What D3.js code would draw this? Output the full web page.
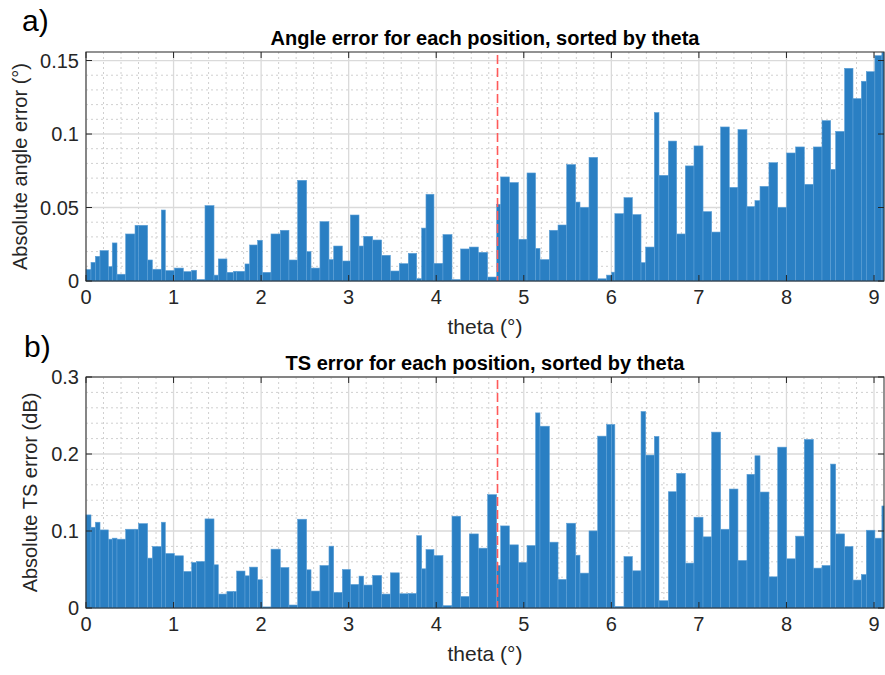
<!DOCTYPE html>
<html>
<head>
<meta charset="utf-8">
<script src="https://cdn.jsdelivr.net/npm/d3@7/dist/d3.min.js"></script>
<style>
  body { margin: 0; background: #fff; }
  svg { display: block; font-family: "Liberation Sans", Arial, sans-serif; }
</style>
</head>
<body>
<svg id="chart" width="885" height="675"></svg>
<script>
// ---- Data (left edge of each bar step, in degrees) ----
const theta = [0.000,0.057,0.107,0.160,0.255,0.300,0.354,0.453,0.560,0.600,
  0.704,0.758,0.860,0.906,1.009,1.112,1.207,1.264,1.359,1.462,
  1.511,1.610,1.686,1.721,1.816,1.869,1.960,2.014,2.113,2.219,
  2.318,2.417,2.520,2.570,2.672,2.775,2.829,2.928,3.019,3.118,
  3.171,3.274,3.377,3.476,3.578,3.681,3.777,3.834,3.883,3.974,
  4.077,4.180,4.279,4.378,4.481,4.587,4.690,4.736,4.835,4.938,
  5.037,5.135,5.185,5.292,5.391,5.490,5.592,5.642,5.745,5.844,
  5.946,6.004,6.040,6.144,6.240,6.339,6.392,6.491,6.544,6.651,
  6.746,6.845,6.944,7.047,7.146,7.248,7.347,7.446,7.549,7.640,
  7.698,7.800,7.900,8.002,8.105,8.204,8.307,8.406,8.505,8.562,
  8.664,8.760,8.855,8.912,9.010,9.090];
const thetaEnd = 9.114;
const angleErr = [0.0078,0.0127,0.0168,0.0207,0.0098,0.0259,0.0046,0.0320,0.0379,0.0379,
  0.0143,0.0080,0.0483,0.0071,0.0088,0.0064,0.0073,0.0010,0.0513,0.0040,
  0.0150,0.0059,0.0066,0.0066,0.0116,0.0245,0.0277,0.0059,0.0320,0.0345,
  0.0143,0.0685,0.0200,0.0088,0.0404,0.0146,0.0238,0.0136,0.0449,0.0238,
  0.0304,0.0279,0.0175,0.0068,0.0118,0.0188,0.0016,0.0360,0.0590,0.0120,
  0.0316,0.0010,0.0218,0.0231,0.0195,0.0027,0.0522,0.0708,0.0670,0.0284,
  0.0735,0.0222,0.0146,0.0345,0.0381,0.0792,0.0537,0.0501,0.0841,0.0015,
  0.0040,0.0060,0.0458,0.0567,0.0452,0.0125,0.0231,0.1146,0.0719,0.0952,
  0.0320,0.0783,0.0919,0.0472,0.0333,0.1048,0.0637,0.1030,0.0506,0.0547,
  0.0644,0.0805,0.0501,0.0871,0.0912,0.0658,0.0912,0.1091,0.0760,0.1018,
  0.1447,0.1241,0.1359,0.1424,0.1533,0.1555];
const tsErr = [0.1209,0.1049,0.1114,0.1014,0.0894,0.0907,0.0894,0.1023,0.1023,0.1096,
  0.0648,0.0798,0.1114,0.0708,0.0678,0.0475,0.0591,0.0604,0.1157,0.0561,
  0.0181,0.0215,0.0215,0.0480,0.0418,0.0531,0.0367,0.0014,0.0764,0.0526,
  0.0039,0.1153,0.0496,0.0220,0.0552,0.0803,0.0202,0.0500,0.0306,0.0414,
  0.0298,0.0423,0.0181,0.0457,0.0185,0.0189,0.0940,0.0509,0.0759,0.0681,
  0.0030,0.1192,0.0150,0.0962,0.0777,0.1472,0.0552,0.1066,0.0820,0.0591,
  0.0811,0.2534,0.2361,0.0855,0.0371,0.1101,0.0686,0.0453,0.1001,0.2232,
  0.2383,0.2383,0.0020,0.0668,0.0483,0.2552,0.1986,0.2228,0.0095,0.1510,
  0.1749,0.0583,0.1179,0.0924,0.2284,0.1023,0.1545,0.0617,0.1736,0.1977,
  0.1506,0.0405,0.2089,0.0639,0.0933,0.2189,0.0518,0.0552,0.1869,0.0962,
  0.0798,0.0363,0.0435,0.1010,0.0907,0.1325];
const xTicks = [0,1,2,3,4,5,6,7,8,9];
const yTicksA = [0,0.05,0.1,0.15];
const yTicksB = [0,0.1,0.2,0.3];
const markerTheta = 4.7;

const svg = d3.select("#chart");
const axisColor = "#262626";
const barColor = "#2a7fc3";

function panel(cfg) {
  const g = svg.append("g");
  const x = d3.scaleLinear().domain([0, thetaEnd]).range([cfg.left, cfg.right]);
  const y = d3.scaleLinear().domain([0, cfg.yMax]).range([cfg.bottom, cfg.top]);

  // minor grid
  const minorX = d3.range(0, thetaEnd, 0.2).filter(v => Math.abs(v - Math.round(v)) > 1e-6);
  g.selectAll(".mx").data(minorX).join("line")
    .attr("x1", d => x(d)).attr("x2", d => x(d))
    .attr("y1", cfg.top).attr("y2", cfg.bottom)
    .attr("stroke", "#d0d0d0").attr("stroke-width", 1).attr("stroke-dasharray", "2,3");
  const minorY = d3.range(0, cfg.yMax, cfg.minorStep).filter(v => {
    const r = v / cfg.majorStep; return Math.abs(r - Math.round(r)) > 1e-6; });
  g.selectAll(".my").data(minorY).join("line")
    .attr("x1", cfg.left).attr("x2", cfg.right)
    .attr("y1", d => y(d)).attr("y2", d => y(d))
    .attr("stroke", "#d0d0d0").attr("stroke-width", 1).attr("stroke-dasharray", "2,3");
  // major grid
  g.selectAll(".gx").data(xTicks).join("line")
    .attr("x1", d => x(d)).attr("x2", d => x(d))
    .attr("y1", cfg.top).attr("y2", cfg.bottom)
    .attr("stroke", "#dadada").attr("stroke-width", 1.3);
  g.selectAll(".gy").data(cfg.yTicks).join("line")
    .attr("x1", cfg.left).attr("x2", cfg.right)
    .attr("y1", d => y(d)).attr("y2", d => y(d))
    .attr("stroke", "#dadada").attr("stroke-width", 1.3);

  // bars
  g.selectAll(".bar").data(cfg.values).join("rect")
    .attr("x", (d, i) => x(theta[i]))
    .attr("width", (d, i) => x(i + 1 < theta.length ? theta[i + 1] : thetaEnd) - x(theta[i]))
    .attr("y", d => y(d))
    .attr("height", d => y(0) - y(d))
    .attr("fill", barColor)
    .attr("stroke", "#5b9fd6").attr("stroke-width", 0.6);

  // dashed marker
  g.append("line")
    .attr("x1", x(markerTheta)).attr("x2", x(markerTheta))
    .attr("y1", cfg.top + 3).attr("y2", cfg.bottom)
    .attr("stroke", "#ff5a5a").attr("stroke-width", 1.6).attr("stroke-dasharray", "9,4");

  // box
  g.append("rect").attr("x", cfg.left).attr("y", cfg.top)
    .attr("width", cfg.right - cfg.left).attr("height", cfg.bottom - cfg.top)
    .attr("fill", "none").attr("stroke", axisColor).attr("stroke-width", 1);

  // ticks (inward, all sides)
  const tl = 6;
  g.selectAll(".tb").data(xTicks).join("line")
    .attr("x1", d => x(d)).attr("x2", d => x(d))
    .attr("y1", cfg.bottom).attr("y2", cfg.bottom - tl).attr("stroke", axisColor);
  g.selectAll(".tt").data(xTicks).join("line")
    .attr("x1", d => x(d)).attr("x2", d => x(d))
    .attr("y1", cfg.top).attr("y2", cfg.top + tl).attr("stroke", axisColor);
  g.selectAll(".tlft").data(cfg.yTicks).join("line")
    .attr("x1", cfg.left).attr("x2", cfg.left + tl)
    .attr("y1", d => y(d)).attr("y2", d => y(d)).attr("stroke", axisColor);
  g.selectAll(".trt").data(cfg.yTicks).join("line")
    .attr("x1", cfg.right).attr("x2", cfg.right - tl)
    .attr("y1", d => y(d)).attr("y2", d => y(d)).attr("stroke", axisColor);

  // tick labels
  g.selectAll(".xl").data(xTicks).join("text")
    .attr("x", d => x(d)).attr("y", cfg.bottom + 23)
    .attr("text-anchor", "middle").attr("font-size", 20).attr("fill", axisColor)
    .text(d => d);
  g.selectAll(".yl").data(cfg.yTicks).join("text")
    .attr("x", cfg.left - 7).attr("y", d => y(d) + 7)
    .attr("text-anchor", "end").attr("font-size", 20).attr("fill", axisColor)
    .text(d => d);

  // titles and labels
  g.append("text").attr("x", (cfg.left + cfg.right) / 2).attr("y", cfg.top - 7)
    .attr("text-anchor", "middle").attr("font-size", 20).attr("font-weight", "bold")
    .attr("fill", "#000").text(cfg.title);
  g.append("text").attr("x", (cfg.left + cfg.right) / 2).attr("y", cfg.bottom + 53)
    .attr("text-anchor", "middle").attr("font-size", 21).attr("fill", axisColor)
    .text("theta (°)");
  g.append("text")
    .attr("transform", `translate(${cfg.yLabelX},${(cfg.top + cfg.bottom) / 2}) rotate(-90)`)
    .attr("text-anchor", "middle").attr("font-size", 20).attr("fill", axisColor)
    .text(cfg.yLabel);
  g.append("text").attr("x", cfg.tagX).attr("y", cfg.tagY)
    .attr("font-size", 30).attr("fill", "#000").text(cfg.tag);
}

panel({left: 86, right: 884, top: 52, bottom: 281, yMax: 0.1558,
  yTicks: yTicksA, majorStep: 0.05, minorStep: 0.01, values: angleErr,
  title: "Angle error for each position, sorted by theta",
  yLabel: "Absolute angle error (°)", yLabelX: 27, tag: "a)", tagX: 22, tagY: 31});
panel({left: 86, right: 884, top: 377, bottom: 608, yMax: 0.3,
  yTicks: yTicksB, majorStep: 0.1, minorStep: 0.02, values: tsErr,
  title: "TS error for each position, sorted by theta",
  yLabel: "Absolute TS error (dB)", yLabelX: 37, tag: "b)", tagX: 24, tagY: 357});
</script>
</body>
</html>
